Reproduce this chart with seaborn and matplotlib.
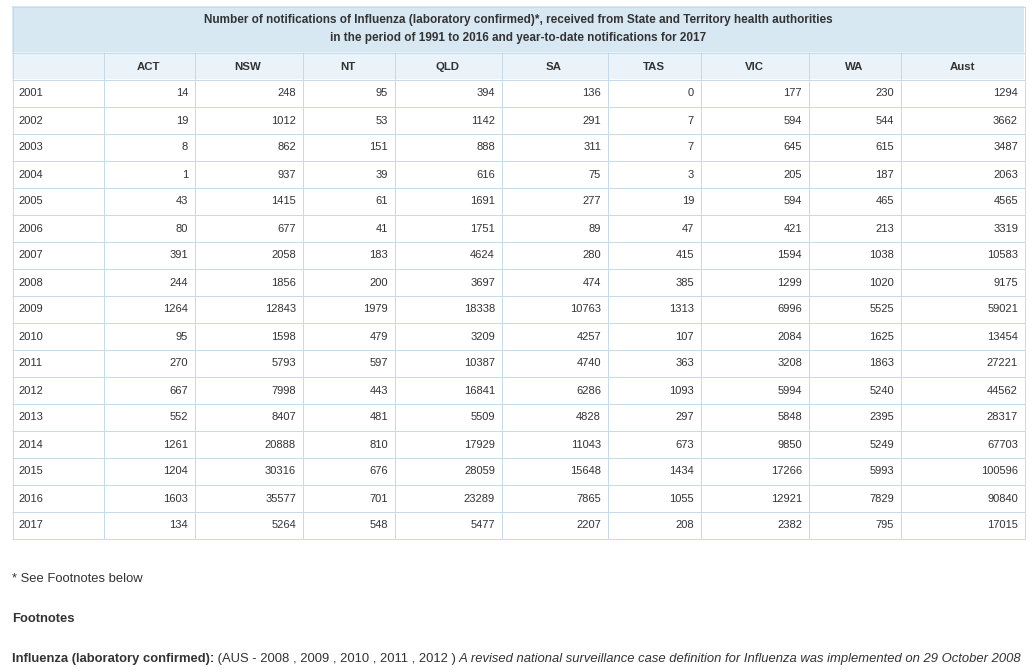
import matplotlib
matplotlib.use("Agg")
import matplotlib.pyplot as plt
from matplotlib.patches import Rectangle
import seaborn as sns

sns.set_theme(style="white")
plt.rcParams['font.family'] = ['Liberation Sans', 'DejaVu Sans']

# ---- data ----
title_lines = ["Number of notifications of Influenza (laboratory confirmed)*, received from State and Territory health authorities",
               "in the period of 1991 to 2016 and year-to-date notifications for 2017"]
columns = ["ACT", "NSW", "NT", "QLD", "SA", "TAS", "VIC", "WA", "Aust"]
years = ["2001", "2002", "2003", "2004", "2005", "2006", "2007", "2008", "2009",
         "2010", "2011", "2012", "2013", "2014", "2015", "2016", "2017"]
act = [14, 19, 8, 1, 43, 80, 391, 244, 1264, 95, 270, 667, 552, 1261, 1204, 1603, 134]
nsw = [248, 1012, 862, 937, 1415, 677, 2058, 1856, 12843, 1598, 5793, 7998, 8407, 20888, 30316, 35577, 5264]
nt = [95, 53, 151, 39, 61, 41, 183, 200, 1979, 479, 597, 443, 481, 810, 676, 701, 548]
qld = [394, 1142, 888, 616, 1691, 1751, 4624, 3697, 18338, 3209, 10387, 16841, 5509, 17929, 28059, 23289, 5477]
sa = [136, 291, 311, 75, 277, 89, 280, 474, 10763, 4257, 4740, 6286, 4828, 11043, 15648, 7865, 2207]
tas = [0, 7, 7, 3, 19, 47, 415, 385, 1313, 107, 363, 1093, 297, 673, 1434, 1055, 208]
vic = [177, 594, 645, 205, 594, 421, 1594, 1299, 6996, 2084, 3208, 5994, 5848, 9850, 17266, 12921, 2382]
wa = [230, 544, 615, 187, 465, 213, 1038, 1020, 5525, 1625, 1863, 5240, 2395, 5249, 5993, 7829, 795]
aust = [1294, 3662, 3487, 2063, 4565, 3319, 10583, 9175, 59021, 13454, 27221, 44562, 28317, 67703, 100596, 90840, 17015]
series = [act, nsw, nt, qld, sa, tas, vic, wa, aust]

# ---- layout (pixels) ----
W, H = 1033, 672
col_edges = [12, 103, 194, 302, 394, 501, 607, 700, 808, 900, 1024]
title_top, head_top, body_top, row_h = 6, 52, 79, 27
border = "#c6dbe9"
txt = "#333333"
px = 0.72  # one pixel line width at 100 dpi

fig = plt.figure(figsize=(W / 100, H / 100), dpi=100)
ax = fig.add_axes([0, 0, 1, 1])
ax.set_xlim(0, W)
ax.set_ylim(H, 0)
ax.axis("off")

left, right = col_edges[0], col_edges[-1]
n = len(years)
bottom = body_top + n * row_h

# backgrounds
ax.add_patch(Rectangle((left, title_top), right - left, head_top - title_top,
                       facecolor="#d8e8f3", edgecolor="none"))
ax.add_patch(Rectangle((left, head_top), right - left, body_top - head_top,
                       facecolor="#eaf3fa", edgecolor="none"))

# grid lines
for y in [title_top, head_top] + [body_top + r * row_h for r in range(n + 1)]:
    ax.plot([left, right + 1], [y + 0.5, y + 0.5], color=border, lw=px, solid_capstyle="butt")
for x in [left, right]:
    ax.plot([x + 0.5, x + 0.5], [title_top, bottom + 1], color=border, lw=px, solid_capstyle="butt")
for x in col_edges[1:-1]:
    ax.plot([x + 0.5, x + 0.5], [head_top, bottom + 1], color=border, lw=px, solid_capstyle="butt")

# title
ax.text((left + right) / 2, 20, title_lines[0], ha="center", va="center",
        fontsize=8.5, fontweight="bold", color=txt)
ax.text((left + right) / 2, 38, title_lines[1], ha="center", va="center",
        fontsize=8.5, fontweight="bold", color=txt)

# header
for i, name in enumerate(columns):
    x0, x1 = col_edges[i + 1], col_edges[i + 2]
    ax.text((x0 + x1) / 2, (head_top + body_top) / 2 + 1, name, ha="center", va="center",
            fontsize=8.2, fontweight="bold", color=txt)

# body
for r, yr in enumerate(years):
    yc = body_top + r * row_h + row_h / 2 + 1
    ax.text(left + 6, yc, yr, ha="left", va="center", fontsize=8, color=txt)
    for c, vals in enumerate(series):
        ax.text(col_edges[c + 2] - 6, yc, str(vals[r]), ha="right", va="center",
                fontsize=8, color=txt)

# footnotes
fs = 9.4
ax.text(left, 579, "* See Footnotes below", ha="left", va="center", fontsize=fs, color=txt)
ax.text(left, 619, "Footnotes", ha="left", va="center", fontsize=fs, fontweight="bold", color=txt)
t1 = ax.text(left, 659, "Influenza (laboratory confirmed):", ha="left", va="center",
             fontsize=fs, fontweight="bold", color=txt)
t2 = ax.annotate(" (AUS - 2008 , 2009 , 2010 , 2011 , 2012 )", xy=(1, 0.5), xycoords=t1,
                 ha="left", va="center", fontsize=fs, color=txt)
ax.annotate(" A revised national surveillance case definition for Influenza was implemented on 29 October 2008",
            xy=(1, 0.5), xycoords=t2, ha="left", va="center", fontsize=fs,
            fontstyle="italic", color=txt)

fig.savefig("out.png", dpi=100, facecolor="white")
